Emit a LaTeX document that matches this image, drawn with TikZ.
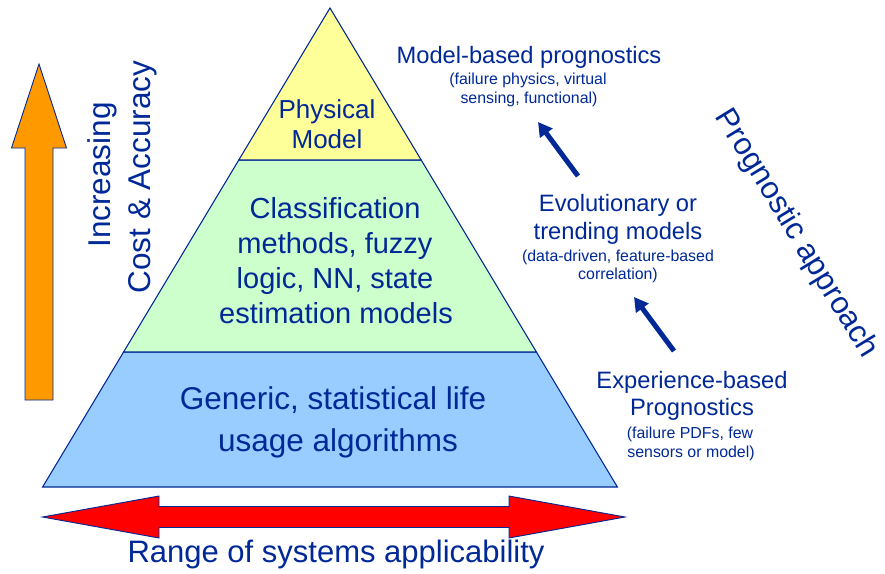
\documentclass[tikz,border=0pt]{standalone}
\usepackage{fontspec}
\setmainfont{Liberation Sans}
\usetikzlibrary{arrows.meta}
\definecolor{ink}{RGB}{0,40,150}
\definecolor{tierTop}{RGB}{255,255,153}
\definecolor{tierMid}{RGB}{204,255,204}
\definecolor{tierLow}{RGB}{153,204,255}
\definecolor{costArrow}{RGB}{255,153,0}
\definecolor{rangeArrow}{RGB}{255,0,0}
\begin{document}
\begin{tikzpicture}[x=1pt,y=-1pt,
  every node/.style={text=ink, inner sep=0pt, anchor=base},
  tier/.style={draw=ink, line width=1.1pt, line join=miter},
  blockarrow/.style={draw=ink, line width=0.9pt, line join=miter},
  bigtxt/.style={font=\fontsize{31.5}{41}\selectfont},
  midtxt/.style={font=\fontsize{29}{35}\selectfont},
  toptxt/.style={font=\fontsize{26}{30}\selectfont},
  labtxt/.style={font=\fontsize{23.7}{28}\selectfont},
  smalltxt/.style={font=\fontsize{15.9}{18}\selectfont},
  progarrow/.style={draw=ink, line width=5pt,
    -{Triangle[length=14pt,width=15pt]}}]
\useasboundingbox (0,0) rectangle (885,573);

% pyramid corners
\coordinate (apex) at (330,8);
\coordinate (tl) at (238.8,160);  \coordinate (tr) at (421.2,160);
\coordinate (ml) at (123.6,352);  \coordinate (mr) at (536.4,352);
\coordinate (bl) at (42.6,487);   \coordinate (br) at (617.4,487);

% pyramid tiers
\draw[tier, fill=tierLow] (ml) -- (mr) -- (br) -- (bl) -- cycle;
\draw[tier, fill=tierMid] (tl) -- (tr) -- (mr) -- (ml) -- cycle;
\draw[tier, fill=tierTop] (apex) -- (tr) -- (tl) -- cycle;

% tier labels
\node[toptxt] (phys1) at (327,118) {Physical};
\node[toptxt] (phys2) at (327,148) {Model};
\node[midtxt] (cls1) at (335,218) {Classification};
\node[midtxt] (cls2) at (335,253) {methods, fuzzy};
\node[midtxt] (cls3) at (335,288) {logic, NN, state};
\node[midtxt] (cls4) at (336,323) {estimation models};
\node[bigtxt] (gen1) at (333,409) {Generic, statistical life};
\node[bigtxt] (gen2) at (338,451) {usage algorithms};

% cost arrow
\draw[blockarrow, fill=costArrow]
  (25,400) -- (25,148) -- (11.5,148) -- (39,64) -- (66.5,148)
  -- (53,148) -- (53,400) -- cycle;
\node[bigtxt, rotate=90] (incr) at (110,175) {Increasing};
\node[bigtxt, rotate=90] (cost) at (150,177) {Cost \& Accuracy};

% range arrow
\draw[blockarrow, fill=rangeArrow]
  (42.5,517) -- (159,496) -- (159,506.5) -- (509,506.5) -- (509,496)
  -- (625,517) -- (509,538) -- (509,527.5) -- (159,527.5) -- (159,538) -- cycle;
\node[font=\fontsize{31}{37}\selectfont] (range) at (336,562) {Range of systems applicability};

% prognostic approach ladder
\node[labtxt] (mb1) at (529,63) {Model-based prognostics};
\node[smalltxt] (mb2) at (528,84) {(failure physics, virtual};
\node[smalltxt] (mb3) at (529,103) {sensing, functional)};

\node[labtxt] (ev1) at (618,211) {Evolutionary or};
\node[labtxt] (ev2) at (618,239) {trending models};
\node[smalltxt] (ev3) at (618,261) {(data-driven, feature-based};
\node[smalltxt] (ev4) at (618,279) {correlation)};

\node[labtxt] (ex1) at (692,388) {Experience-based};
\node[labtxt] (ex2) at (692,415) {Prognostics};
\node[smalltxt] (ex3) at (690,438) {(failure PDFs, few};
\node[smalltxt] (ex4) at (691,457) {sensors or model)};

\coordinate (upTail) at (578,176);  \coordinate (upTip) at (538,122);
\coordinate (loTail) at (674,351);  \coordinate (loTip) at (634,297);
\draw[progarrow] (upTail) -- (upTip);
\draw[progarrow] (loTail) -- (loTip);

\node[font=\fontsize{31}{37}\selectfont, rotate=-58.5, anchor=center]
  (approach) at (796,234) {Prognostic approach};
\end{tikzpicture}
\end{document}
